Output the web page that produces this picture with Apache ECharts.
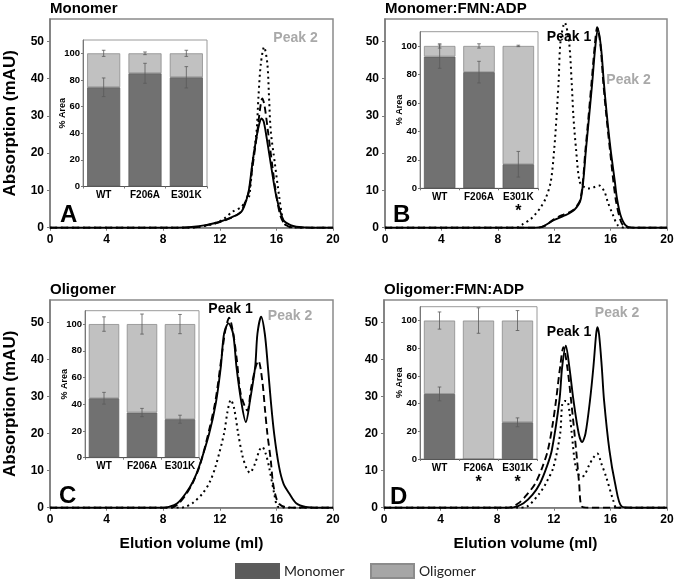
<!DOCTYPE html>
<html><head><meta charset="utf-8">
<script src="https://cdn.jsdelivr.net/npm/echarts@6/dist/echarts.min.js"></script>
<style>html,body{margin:0;padding:0;background:#fff}#c{width:675px;height:579px}</style>
</head><body><div id="c"></div>
<script>
// ---------- data ----------
const xTicks = [0, 4, 8, 12, 16, 20];
const yTicks = [0, 10, 20, 30, 40, 50];
const insetTicks = [0, 20, 40, 60, 80, 100];
const variants = ['WT', 'F206A', 'E301K'];
const panelTitles = ['Monomer', 'Monomer:FMN:ADP', 'Oligomer', 'Oligomer:FMN:ADP'];
const panelLetters = ['A', 'B', 'C', 'D'];

// Chromatograms [elution volume (ml), absorption (mAU)]
const wtA = [[0,0],[9,0],[10,0.2],[11,0.7],[12,1.6],[12.9,2.9],[13.5,4.2],[13.8,6.5],[14.05,10],[14.3,17.2],[14.6,24.4],[14.8,28],[14.95,29.3],[15.1,28.5],[15.3,24.4],[15.6,17.2],[16.0,8.3],[16.5,2],[17.0,0.7],[17.4,0.3],[18.5,0],[20,0]];
const f206aA = [[0,0],[10,0],[11,0.6],[12,1.5],[12.9,2.8],[13.5,4.3],[13.85,7.5],[14.05,9.5],[14.3,16],[14.66,26],[14.85,32],[15.0,34.7],[15.15,33],[15.4,26],[15.7,17],[16.0,8.5],[16.3,3],[16.6,1],[17,0.2],[18,0],[20,0]];
const e301kA = [[0,0],[10,0],[11,0.5],[11.6,1.1],[12.3,2.4],[12.9,4.3],[13.5,5.5],[13.8,7],[14.07,8.3],[14.3,17],[14.6,26],[14.73,35],[14.9,44],[15.13,48.5],[15.36,44],[15.48,35],[15.6,26],[15.9,17],[16.2,8.3],[16.5,1.6],[16.8,0.3],[17.5,0],[20,0]];

const wtB = [[0,0],[10.5,0],[11.17,0.3],[12,2.1],[12.7,3.2],[13.43,4.8],[13.9,7.9],[14.26,21.3],[14.7,39],[14.9,48],[15.1,53.4],[15.33,48],[15.52,39],[15.74,30],[16.0,21],[16.3,12.4],[16.45,7.9],[16.7,3.4],[17.05,0.7],[17.5,0],[20,0]];
const f206aB = [[0,0],[10.8,0],[11.3,0.4],[12,2.3],[12.7,3.6],[13.3,4.6],[13.85,7.5],[14.22,21],[14.65,39],[14.88,49],[15.05,53.8],[15.28,49],[15.48,39],[15.7,30],[15.95,21],[16.35,7.9],[16.7,2],[17.0,0.3],[18,0],[20,0]];
const e301kB = [[0,0],[9.3,0],[9.8,1],[10.33,2.3],[10.7,3.8],[11.05,5.5],[11.4,7.9],[11.76,12.4],[12.0,21],[12.17,30],[12.31,39],[12.45,50],[12.75,55],[13.05,50],[13.24,39],[13.36,30],[13.55,21],[13.8,12.4],[14.1,11],[14.4,10.5],[14.75,10.8],[15.2,11.3],[15.57,9.6],[15.8,6.9],[16.17,3.4],[16.5,0.7],[17,0],[20,0]];

const wtC = [[0,0],[8,0],[8.4,0.2],[9.0,1.2],[9.6,3.9],[10.1,7],[10.54,11.1],[11.25,20],[11.72,28.2],[12.07,37.9],[12.3,46.9],[12.61,49.7],[12.94,46.9],[13.18,37.9],[13.5,29],[13.84,23.1],[14.14,29],[14.5,38],[14.66,46.9],[14.92,51.5],[15.18,46.9],[15.4,38],[15.6,29],[15.84,20],[16.19,11],[16.5,6.5],[16.9,3.9],[17.4,1.2],[18.07,0.2],[19,0],[20,0]];
const f206aC = [[0,0],[8.5,0],[9.0,0.8],[9.6,3.5],[10.1,6.8],[10.6,11.5],[11.25,21],[11.7,29],[12.1,40],[12.4,48],[12.66,51.2],[12.95,47],[13.2,40],[13.48,30.7],[13.95,26.2],[14.2,32],[14.54,38],[14.73,39.6],[15.0,34.3],[15.2,26.2],[15.36,20],[15.6,12.9],[15.76,6.6],[16.0,2.5],[16.2,1],[16.6,0.2],[17.5,0],[20,0]];
const e301kC = [[0,0],[9.3,0],[9.6,0.3],[10.07,1.2],[10.8,3.9],[11.3,7],[11.7,11.1],[12.3,20],[12.55,26],[12.78,29.1],[13.0,27],[13.3,20],[13.6,14],[13.9,10.5],[14.12,9.4],[14.5,12],[14.8,15.5],[15.0,16.4],[15.25,14.5],[15.48,11],[15.84,3.9],[16.07,0.4],[16.5,0],[20,0]];

const wtD = [[0,0],[8.5,0],[9.15,0.1],[9.86,1.2],[10.5,3.5],[11.03,6.6],[11.5,11],[11.86,15.5],[12.4,29],[12.59,37.9],[12.85,43.7],[13.1,37.9],[13.39,29],[13.76,20],[14.0,17.7],[14.24,20],[14.56,29],[14.8,38],[14.99,46.7],[15.08,48.7],[15.2,46.7],[15.39,38],[15.55,29],[15.93,15.5],[16.33,6.6],[16.8,0.3],[17.5,0],[20,0]];
const f206aD = [[0,0],[8.8,0],[9.5,1.2],[10.1,3.5],[10.7,6.6],[11.2,11],[11.58,15.5],[11.9,22],[12.16,29],[12.45,38],[12.68,43.3],[12.95,38],[13.22,29],[13.58,15.5],[13.79,6.6],[13.98,0.3],[14.5,0],[20,0]];
const e301kD = [[0,0],[9.5,0],[10.1,0.3],[11.0,3.9],[11.5,7],[11.98,11],[12.45,20],[12.6,28],[12.8,28.8],[13.0,28.5],[13.27,20],[13.5,12],[13.75,9],[13.98,8.3],[14.2,9],[14.5,11.5],[14.8,13.5],[15.08,14.6],[15.35,12],[15.7,8.3],[16.2,2],[16.45,0],[20,0]];

// Inset: % area of monomer peak, error bars
const monoA = [74.5, 85, 82];   const monoErrA = [7, 7.5, 8];   const oligErrA = [2.3, 1, 2.3];
const monoB = [92.5, 81.6, 16.9]; const monoErrB = [8.2, 7.6, 9]; const oligErrB = [1.5, 1.5, 0.5];
const monoC = [44.5, 33.8, 28.8]; const monoErrC = [4.4, 3.1, 3];  const oligErrC = [5.4, 7.5, 7.2];
const monoD = [47, 0, 26.5];     const monoErrD = [5, 0, 3.2];    const oligErrD = [6.2, 9.2, 7.2];
const significance = [['', '', ''], ['', '', '*'], ['', '', ''], ['', '*', '*']];

const traces = [[wtA, f206aA, e301kA], [wtB, f206aB, e301kB], [wtC, f206aC, e301kC], [wtD, f206aD, e301kD]];
const monos = [monoA, monoB, monoC, monoD];
const monoErrs = [monoErrA, monoErrB, monoErrC, monoErrD];
const oligErrs = [oligErrA, oligErrB, oligErrC, oligErrD];

// ---------- layout & style ----------
const FONT = "'Liberation Sans', Arial, sans-serif";
const NARROW = "'Liberation Sans Narrow', 'Liberation Sans', Arial, sans-serif";
const mainGrids = [
  {left: 50, top: 19, width: 283, height: 208.7},
  {left: 385, top: 19, width: 282, height: 208.7},
  {left: 50, top: 300, width: 283, height: 207.7},
  {left: 384, top: 300, width: 283, height: 207.7}
];
const insetGrids = [
  {left: 83, top: 40, width: 124, height: 146.5},
  {left: 420, top: 31.7, width: 118, height: 156.6},
  {left: 85, top: 310.7, width: 114, height: 147},
  {left: 420, top: 306.7, width: 117, height: 152.3}
];
const lineStyles = [
  {type: 'solid', width: 1.9},
  {type: [7, 4], width: 1.9},
  {type: [2, 3.5], width: 2}
];
const MONO_COLOR = '#717171', OLIG_COLOR = '#c1c1c1';

const grid = [], xAxis = [], yAxis = [], series = [], title = [];
for (let p = 0; p < 4; p++) {
  grid.push(Object.assign({show: true, borderColor: '#8a8a8a', borderWidth: 1.5, backgroundColor: 'transparent', outerBoundsMode: 'none'}, mainGrids[p]));
  xAxis.push({
    type: 'value', gridIndex: p, min: 0, max: 20, interval: 4,
    axisLine: {show: true, onZero: false, lineStyle: {color: '#7a7a7a', width: 1.5}},
    axisTick: {show: true, inside: false, length: 3, lineStyle: {color: '#7a7a7a'}, customValues: xTicks},
    axisLabel: {customValues: xTicks, color: '#000', fontWeight: 'bold', fontSize: 12, fontFamily: FONT, margin: 6},
    splitLine: {show: false},
    name: p >= 2 ? 'Elution volume (ml)' : '', nameLocation: 'middle', nameGap: 28, nameMoveOverlap: false,
    nameTextStyle: {color: '#000', fontWeight: 'bold', fontSize: 15.5, fontFamily: FONT}
  });
  yAxis.push({
    type: 'value', gridIndex: p, min: 0, max: 56, interval: 10,
    axisLine: {show: true, onZero: false, lineStyle: {color: '#7a7a7a', width: 1.5}},
    axisTick: {show: true, length: 3, lineStyle: {color: '#7a7a7a'}, customValues: yTicks},
    axisLabel: {customValues: yTicks, color: '#000', fontWeight: 'bold', fontSize: 12, fontFamily: FONT, margin: 6},
    splitLine: {show: false},
    name: (p % 2 === 0) ? 'Absorption (mAU)' : '', nameLocation: 'middle', nameGap: 31, nameMoveOverlap: false,
    nameTextStyle: {color: '#000', fontWeight: 'bold', fontSize: 17, fontFamily: FONT}
  });
  traces[p].forEach((tr, k) => {
    series.push({
      type: 'line', name: variants[k], xAxisIndex: p, yAxisIndex: p, data: tr,
      showSymbol: false, smooth: 0.3, clip: true,
      lineStyle: Object.assign({color: '#000'}, lineStyles[k]), z: 2, silent: true
    });
  });
  title.push({text: panelTitles[p], left: mainGrids[p].left, top: p < 2 ? 1.5 : 282.5, padding: 0,
    textStyle: {fontSize: 15, fontWeight: 'bold', color: '#000', fontFamily: FONT}});
}
for (let p = 0; p < 4; p++) {
  const gi = 4 + p;
  grid.push(Object.assign({show: true, borderColor: '#9a9a9a', borderWidth: 1, backgroundColor: '#fff', outerBoundsMode: 'none', z: 5}, insetGrids[p]));
  const sig = significance[p];
  xAxis.push({
    type: 'category', gridIndex: gi, data: variants, z: 6,
    axisLine: {show: true, lineStyle: {color: '#555', width: 1}},
    axisTick: {show: true, length: 2, lineStyle: {color: '#777'}},
    axisLabel: {color: '#000', fontWeight: 'bold', fontSize: 10, fontFamily: NARROW, margin: 4, interval: 0,
      formatter: (v, i) => sig[i] ? v + '\n{s|' + sig[i] + '}' : v,
      rich: {s: {fontSize: 16, fontWeight: 'bold', color: '#000', fontFamily: FONT, lineHeight: 16, padding: [3, 0, 0, 0]}}}
  });
  yAxis.push({
    type: 'value', gridIndex: gi, min: 0, max: 110, interval: 20, z: 6,
    axisLine: {show: true, lineStyle: {color: '#777', width: 1}},
    axisTick: {show: true, length: 2, lineStyle: {color: '#777'}, customValues: insetTicks},
    axisLabel: {customValues: insetTicks, color: '#000', fontWeight: 'bold', fontSize: 9.5, fontFamily: FONT, margin: 3},
    splitLine: {show: false},
    name: '% Area', nameLocation: 'middle', nameGap: 16, nameMoveOverlap: false,
    nameTextStyle: {color: '#000', fontWeight: 'bold', fontSize: 9, fontFamily: FONT}
  });
  const mono = monos[p];
  series.push({type: 'bar', name: 'Monomer', xAxisIndex: gi, yAxisIndex: gi, stack: 'ins' + p, data: mono,
    barWidth: '80%', itemStyle: {color: MONO_COLOR, borderColor: '#5c5c5c', borderWidth: 0.8}, z: 6, silent: true});
  series.push({type: 'bar', name: 'Oligomer', xAxisIndex: gi, yAxisIndex: gi, stack: 'ins' + p, data: mono.map(v => 100 - v),
    barWidth: '80%', itemStyle: {color: OLIG_COLOR, borderColor: '#8c8c8c', borderWidth: 0.8}, z: 6, silent: true});
  const errData = [];
  mono.forEach((v, i) => {
    if (monoErrs[p][i] > 0) errData.push([i, v - monoErrs[p][i], v + monoErrs[p][i]]);
    errData.push([i, 100 - oligErrs[p][i], 100 + oligErrs[p][i]]);
  });
  series.push({
    type: 'custom', name: 'err' + p, xAxisIndex: gi, yAxisIndex: gi, data: errData, z: 7, silent: true,
    encode: {x: 0, y: [1, 2]},
    renderItem: (params, api) => {
      const i = api.value(0);
      const a = api.coord([i, api.value(1)]), b = api.coord([i, api.value(2)]);
      const w = 1.8, st = {stroke: '#5a5a5a', lineWidth: 0.8};
      return {type: 'group', children: [
        {type: 'line', shape: {x1: a[0], y1: a[1], x2: b[0], y2: b[1]}, style: st},
        {type: 'line', shape: {x1: a[0] - w, y1: a[1], x2: a[0] + w, y2: a[1]}, style: st},
        {type: 'line', shape: {x1: b[0] - w, y1: b[1], x2: b[0] + w, y2: b[1]}, style: st}
      ]};
    }
  });
}

const peakLabels = [
  {t: 'Peak 2', x: 295.5, y: 38, c: '#a9a9a9'},
  {t: 'Peak 1', x: 569, y: 37, c: '#000'},
  {t: 'Peak 2', x: 628.5, y: 80, c: '#a9a9a9'},
  {t: 'Peak 1', x: 230.5, y: 309, c: '#000'},
  {t: 'Peak 2', x: 290, y: 316, c: '#a9a9a9'},
  {t: 'Peak 1', x: 569, y: 332, c: '#000'},
  {t: 'Peak 2', x: 617, y: 313, c: '#a9a9a9'}
];
const letterPos = [[60, 215], [393, 215], [59, 496], [390, 497.5]];
const graphic = [];
peakLabels.forEach(o => graphic.push({type: 'text', x: o.x, y: o.y, z: 10, silent: true,
  style: {text: o.t, fill: o.c, font: 'bold 14px ' + FONT, align: 'center', verticalAlign: 'middle'}}));
letterPos.forEach((pos, i) => graphic.push({type: 'text', x: pos[0], y: pos[1], z: 10, silent: true,
  style: {text: panelLetters[i], fill: '#000', font: 'bold 24px ' + FONT, align: 'left', verticalAlign: 'middle'}}));

const legendCommon = {orient: 'horizontal', top: 563, padding: 0, itemWidth: 43, itemHeight: 14, icon: 'rect', selectedMode: false,
  textStyle: {fontSize: 14, color: '#222', fontFamily: "Lato, 'Open Sans', sans-serif"}};
const legend = [
  Object.assign({left: 235, data: [{name: 'Monomer', itemStyle: {color: '#5b5b5b'}}]}, legendCommon),
  Object.assign({left: 370, data: [{name: 'Oligomer', itemStyle: {color: '#a6a6a6'}}]}, legendCommon)
];

const chart = echarts.init(document.getElementById('c'), null, {renderer: 'canvas'});
chart.setOption({animation: false, backgroundColor: '#fff', title, grid, xAxis, yAxis, series, graphic, legend, tooltip: {show: false}});
</script></body></html>
